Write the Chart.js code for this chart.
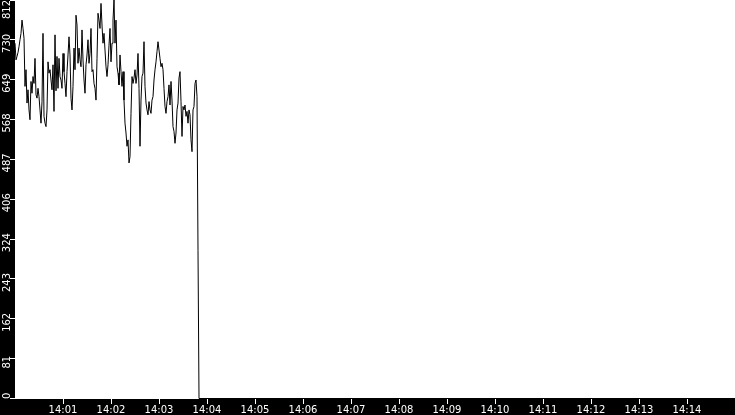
<!DOCTYPE html>
<html>
<head>
<meta charset="utf-8">
<script src="https://cdn.jsdelivr.net/npm/chart.js@4/dist/chart.umd.min.js"></script>
<style>
  html, body { margin: 0; padding: 0; background: #000; }
  #wrap { width: 735px; height: 415px; }
</style>
</head>
<body>
<div id="wrap"><canvas id="myChart" width="735" height="415"></canvas></div>
<script>
// sampled values, one every sampleSeconds starting at 14:00:00
const sampleSeconds = 1.25;
const rate = [
  724, 690, 697, 705, 717, 731, 744, 771, 754, 734, 636, 670, 602, 629, 588, 568,
  646, 622, 656, 642, 693, 619, 612, 632, 615, 588, 561, 605, 744, 575, 561, 554,
  588, 686, 663, 670, 649, 629, 680, 585, 741, 627, 697, 632, 693, 656, 649, 632,
  703, 666, 642, 615, 666, 700, 737, 700, 612, 588, 636, 714, 670, 781, 761, 683,
  714, 690, 676, 751, 690, 649, 622, 680, 700, 731, 683, 703, 754, 666, 670, 642,
  632, 608, 693, 785, 771, 754, 805, 761, 724, 744, 710, 676, 656, 680, 720, 754,
  686, 724, 771, 812, 724, 771, 676, 663, 639, 700, 666, 636, 666, 608, 561, 541,
  514, 527, 480, 493, 581, 656, 642, 653, 670, 642, 659, 703, 632, 514, 608, 656,
  663, 727, 636, 602, 588, 578, 605, 588, 581, 608, 615, 649, 670, 686, 707, 727,
  710, 693, 676, 683, 670, 632, 595, 581, 605, 615, 639, 598, 646, 608, 554, 544,
  520, 541, 588, 602, 653, 666, 605, 534, 595, 588, 598, 575, 585, 561, 588, 578,
  527, 503, 588, 595, 642, 649, 615, 302, 0
];
// after the drop the value stays at zero until the end of the window
const tailEnd = '14:15';
const tailValue = 0;

const startTime = '14:00';
const xTickLabels = ['14:01', '14:02', '14:03', '14:04', '14:05', '14:06', '14:07',
  '14:08', '14:09', '14:10', '14:11', '14:12', '14:13', '14:14'];
const yMax = 812;
const yTickLabels = ['0', '81', '162', '243', '324', '406', '487', '568', '649', '730', '812'];

function toSeconds(hhmm) {
  const [h, m] = hhmm.split(':').map(Number);
  const [h0, m0] = startTime.split(':').map(Number);
  return ((h - h0) * 60 + (m - m0)) * 60;
}

const points = rate.map((v, i) => ({ x: i * sampleSeconds, y: v }));
points.push({ x: toSeconds(tailEnd), y: tailValue });

const FONT = '"DejaVu Sans", sans-serif';

const backgroundPlugin = {
  id: 'bg',
  beforeDraw(chart) {
    const { ctx, chartArea } = chart;
    ctx.save();
    ctx.fillStyle = '#000';
    ctx.fillRect(0, 0, chart.width, chart.height);
    ctx.fillStyle = '#fff';
    ctx.fillRect(chartArea.left, chartArea.top, chartArea.right - chartArea.left, chartArea.bottom - chartArea.top);
    ctx.restore();
  }
};

// rotated y labels, kept inside the plot height
const yLabelPlugin = {
  id: 'yLabels',
  afterDraw(chart) {
    const ctx = chart.ctx;
    const ys = chart.scales.y;
    const area = chart.chartArea;
    ctx.save();
    ctx.fillStyle = '#fff';
    ctx.font = '10px ' + FONT;
    ctx.textAlign = 'center';
    ctx.textBaseline = 'alphabetic';
    ys.ticks.forEach((t, i) => {
      const label = yTickLabels[i];
      const w = ctx.measureText(label).width;
      let py = ys.getPixelForTick(i) + 3.5;
      py = Math.min(Math.max(py, area.top + w / 2), area.bottom - w / 2);
      ctx.save();
      ctx.translate(9.5, py);
      ctx.rotate(-Math.PI / 2);
      ctx.fillText(label, 0, 0);
      ctx.restore();
    });
    ctx.restore();
  }
};

new Chart(document.getElementById('myChart').getContext('2d'), {
  type: 'line',
  data: {
    datasets: [{
      data: points,
      borderColor: '#000',
      borderWidth: 1,
      pointRadius: 0,
      tension: 0,
      fill: false
    }]
  },
  options: {
    responsive: false,
    animation: false,
    devicePixelRatio: 1,
    layout: { padding: 0 },
    plugins: { legend: { display: false }, tooltip: { enabled: false } },
    scales: {
      x: {
        type: 'linear',
        min: 0,
        max: toSeconds(tailEnd),
        afterBuildTicks: (scale) => {
          scale.ticks = xTickLabels.map(l => ({ value: toSeconds(l) }));
        },
        afterFit: (scale) => { scale.height = 16; },
        border: { display: false },
        grid: { drawOnChartArea: false, color: '#fff', tickLength: 5, lineWidth: 1 },
        ticks: {
          autoSkip: false,
          maxRotation: 0,
          padding: 0,
          color: '#fff',
          font: { family: FONT, size: 10 },
          callback: (v, i) => xTickLabels[i]
        }
      },
      y: {
        min: -1,
        max: yMax,
        afterBuildTicks: (scale) => {
          scale.ticks = yTickLabels.map((l, i) => ({ value: yMax * i / (yTickLabels.length - 1) }));
        },
        afterFit: (scale) => { scale.width = 15; },
        border: { display: false },
        grid: { drawOnChartArea: false, color: '#fff', tickLength: 5, lineWidth: 1 },
        ticks: { display: false }
      }
    }
  },
  plugins: [backgroundPlugin, yLabelPlugin]
});
</script>
</body>
</html>
